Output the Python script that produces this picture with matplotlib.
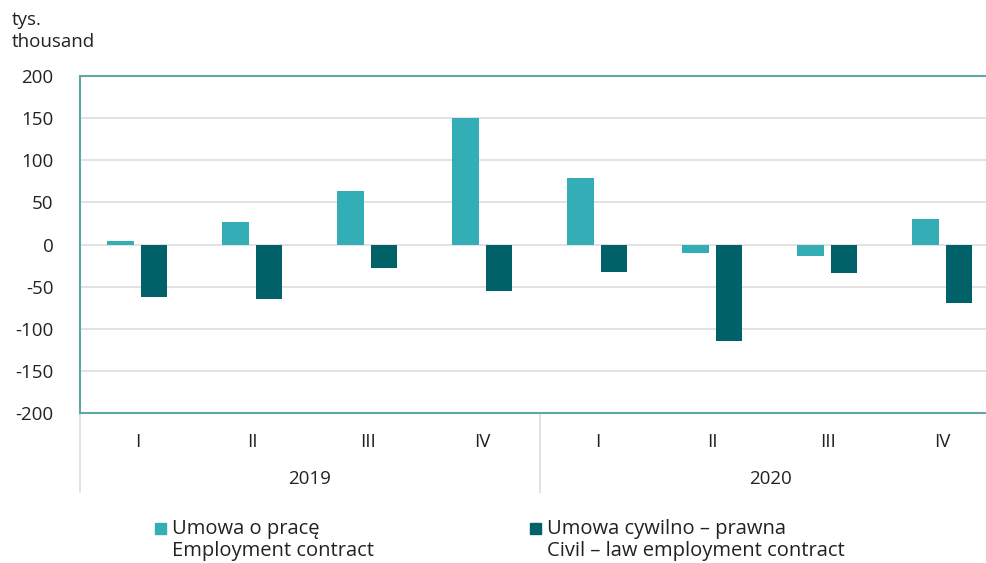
import numpy as np
import matplotlib.pyplot as plt
from matplotlib.patches import Rectangle

quarters = ['I', 'II', 'III', 'IV', 'I', 'II', 'III', 'IV']
years = ['2019', '2020']
employment = [4, 27, 63, 150, 79, -10, -14, 30]
civil_law = [-62, -65, -28, -55, -33, -115, -34, -70]
yticks = [-200, -150, -100, -50, 0, 50, 100, 150, 200]

teal = '#33aeb7'
dark = '#006168'
spine_col = '#5ea7a5'
txt_col = '#222222'
plt.rcParams['font.family'] = ['Open Sans', 'DejaVu Sans']

fig = plt.figure(figsize=(9.86, 5.63), dpi=100)
# plot area runs a little past the right edge of the picture, as in the reference
ax = fig.add_axes([80/986, 1-413/563, 920/986, 337/563])

x = np.arange(len(quarters))
w = 0.23
ax.bar(x - 0.148, employment, w, color=teal, zorder=3)
ax.bar(x + 0.142, civil_law, w, color=dark, zorder=3)

ax.set_xlim(-0.5, 7.5)
ax.set_ylim(-200, 200)
ax.set_yticks(yticks)
ax.set_yticklabels([str(v) for v in yticks], fontsize=13.5, color=txt_col)
ax.yaxis.grid(True, color='#dddddd', lw=1.2, zorder=0)
ax.set_xticks([])
ax.tick_params(axis='y', length=0, pad=19)
for s in ['left', 'top', 'bottom', 'right']:
    ax.spines[s].set_color(spine_col)
    ax.spines[s].set_linewidth(1.5)

# category labels
trans = ax.get_xaxis_transform()
for i, q in enumerate(quarters):
    ax.text(i, -0.085, q, transform=trans, ha='center', va='center', fontsize=13.5, color=txt_col)
for j, yr in enumerate(years):
    ax.text(1.5 + 4*j, -0.195, yr, transform=trans, ha='center', va='center', fontsize=13.5, color=txt_col)
for xs in [-0.5, 3.5]:
    ax.plot([xs, xs], [0, -0.235], transform=trans, color='#dddddd', lw=1.2, clip_on=False)

fig.text(12/986, 1-31/563, 'tys.\nthousand', fontsize=13.5, color=txt_col, va='center', ha='left', linespacing=1.25)

# legend
for lx, col, txt in [(155, teal, 'Umowa o pracę\nEmployment contract'),
                     (530, dark, 'Umowa cywilno – prawna\nCivil – law employment contract')]:
    fig.patches.append(Rectangle((lx/986, 1-534/563), 11/986, 11/563, color=col, transform=fig.transFigure))
    fig.text((lx+17)/986, 1-540/563, txt, fontsize=14.5, color=txt_col, va='center', ha='left', linespacing=1.15)

fig.savefig('out.png', dpi=100)
